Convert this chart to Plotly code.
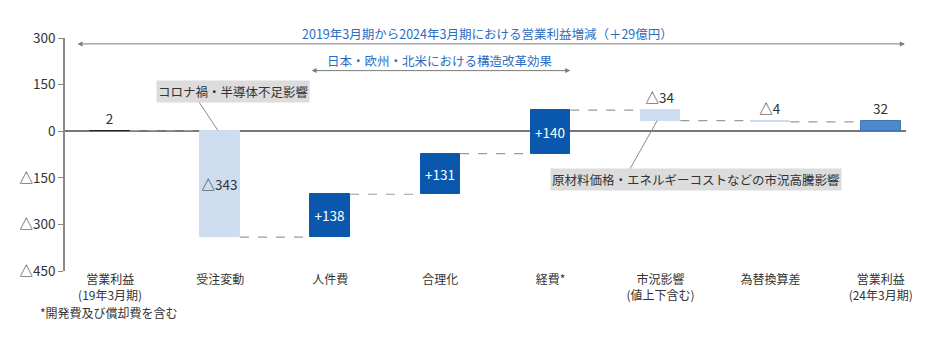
import plotly.graph_objects as go

categories = ["営業利益<br>(19年3月期)", "受注変動", "人件費", "合理化", "経費*",
              "市況影響<br>(値上下含む)", "為替換算差", "営業利益<br>(24年3月期)"]
values = [2, -343, 138, 131, 140, -34, -4, 32]
kinds = ["total", "delta", "delta", "delta", "delta", "delta", "delta", "total"]
labels = ["2", "△343", "+138", "+131", "+140", "△34", "△4", "32"]
y_tickvals = [300, 150, 0, -150, -300, -450]
y_ticktext = ["300", "150", "0", "△150", "△300", "△450"]

FONT = "Noto Sans CJK JP"
DARK = "#0a58ad"
LIGHT = "#cddcef"
TOTAL = "#4f89c9"
BW = 0.36

# compute bases and heights
bases, heights, ends = [], [], []
cum = 0
for v, k in zip(values, kinds):
    if k == "total":
        lo, hi = min(0, v), max(0, v)
        cum = v
    else:
        start = cum
        cum = cum + v
        lo, hi = min(start, cum), max(start, cum)
    bases.append(lo)
    heights.append(hi - lo)
    ends.append(cum)

colors, tpos, tcol, lcol = [], [], [], []
for i, (v, k) in enumerate(zip(values, kinds)):
    if k == "total":
        colors.append("#222222" if i == 0 else TOTAL)
        lcol.append("#222222" if i == 0 else "#3f78b8")
        tpos.append("outside")
        tcol.append("#333333")
    elif v > 0:
        colors.append(DARK)
        lcol.append(DARK)
        tpos.append("inside")
        tcol.append("white")
    else:
        colors.append(LIGHT)
        lcol.append(LIGHT)
        tpos.append("inside" if abs(v) > 100 else "outside")
        tcol.append("#333333")

xs = list(range(len(categories)))

fig = go.Figure()
fig.add_trace(go.Bar(
    x=xs, y=heights, base=bases, width=BW,
    marker=dict(color=colors, line=dict(color=lcol, width=1)),
    text=labels, textposition=tpos, insidetextanchor="middle", textangle=0,
    textfont=dict(family=FONT, size=13.5, color=tcol),
    outsidetextfont=dict(family=FONT, size=13.5, color="#333333"),
    cliponaxis=False, hoverinfo="skip", showlegend=False,
))

shapes = []
# dashed connectors
for i in range(len(xs) - 1):
    shapes.append(dict(type="line", xref="x", yref="y",
                       x0=xs[i] + BW / 2, x1=xs[i + 1] - BW / 2,
                       y0=ends[i], y1=ends[i],
                       line=dict(color="#9a9a9a", width=1.2, dash="dash")))
# leader lines for callouts
shapes.append(dict(type="line", xref="x", yref="y", x0=0.79, y0=103, x1=0.98, y1=bases[1] + heights[1],
                   line=dict(color="#8a8a8a", width=1)))
shapes.append(dict(type="line", xref="x", yref="y", x0=4.705, y0=-132, x1=4.97, y1=bases[5],
                   line=dict(color="#8a8a8a", width=1)))

annotations = [
    # long arrow
    dict(x=7.22, y=281, ax=-0.31, ay=281, xref="x", yref="y", axref="x", ayref="y",
         showarrow=True, arrowside="end+start", arrowhead=2, startarrowhead=2,
         arrowsize=1, startarrowsize=1, arrowwidth=1, arrowcolor="#7a7a7a", text=""),
    dict(x=3.43, y=1.021, xref="x", yref="paper", xanchor="center", yanchor="middle",
         showarrow=False,
         text="2019年3月期から2024年3月期における営業利益増減（＋29億円）",
         font=dict(family=FONT, size=12.5, color="#2a6cc2")),
    # structural reform arrow
    dict(x=4.18, y=195, ax=1.817, ay=195, xref="x", yref="y", axref="x", ayref="y",
         showarrow=True, arrowside="end+start", arrowhead=2, startarrowhead=2,
         arrowsize=1, startarrowsize=1, arrowwidth=1, arrowcolor="#7a7a7a", text=""),
    dict(x=3.0, y=226, xref="x", yref="y", xanchor="center", yanchor="middle",
         showarrow=False,
         text="日本・欧州・北米における構造改革効果",
         font=dict(family=FONT, size=12.5, color="#2a6cc2")),
    # callout boxes
    dict(x=1.12, y=128, xref="x", yref="y", xanchor="center", yanchor="middle",
         showarrow=False,
         text="コロナ禍・半導体不足影響", bgcolor="#dcdcdc", borderpad=1,
         font=dict(family=FONT, size=12.5, color="#333333")),
    dict(x=5.32, y=-156, xref="x", yref="y", xanchor="center", yanchor="middle",
         showarrow=False,
         text="原材料価格・エネルギーコストなどの市況高騰影響", bgcolor="#dcdcdc", borderpad=1,
         font=dict(family=FONT, size=12.5, color="#333333")),
    # footnote
    dict(x=-0.032, y=-0.18, xref="paper", yref="paper", xanchor="left", yanchor="middle",
         showarrow=False,
         text="*開発費及び償却費を含む",
         font=dict(family=FONT, size=12, color="#333333")),
]

fig.update_layout(
    width=930, height=346,
    margin=dict(l=65, r=24, t=38, b=75),
    paper_bgcolor="white", plot_bgcolor="white",
    font=dict(family=FONT, size=12, color="#333333"),
    showlegend=False, bargap=0,
    uniformtext=dict(mode="show", minsize=13.5),
    shapes=shapes, annotations=annotations,
    xaxis=dict(range=[-0.41, 7.23], tickmode="array", tickvals=xs, ticktext=categories,
               showgrid=False, zeroline=False, showline=False, ticks="",
               tickfont=dict(family=FONT, size=12, color="#333333")),
    yaxis=dict(range=[-450, 300], tickmode="array", tickvals=y_tickvals, ticktext=y_ticktext,
               showgrid=False, zeroline=True, zerolinecolor="#777777", zerolinewidth=1.5,
               showline=True, linecolor="#888888", linewidth=1.5,
               ticks="outside", ticklen=5, tickcolor="#888888",
               tickfont=dict(family=FONT, size=13.5, color="#333333")),
)

fig.write_html("out.html")
